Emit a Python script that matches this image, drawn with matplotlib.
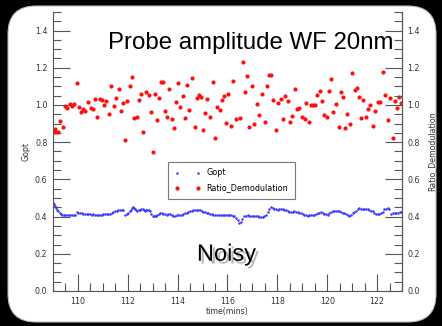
import matplotlib
matplotlib.use("Agg")
import matplotlib.pyplot as plt
import matplotlib.patheffects as pe
from matplotlib.patches import FancyBboxPatch
from matplotlib.ticker import MultipleLocator

# Ratio_Demodulation (rojo)
t_ratio = [109.07, 109.09, 109.20, 109.28, 109.39, 109.49, 109.57, 109.68, 109.76, 109.84,
           109.95, 110.03, 110.14, 110.22, 110.30, 110.40, 110.51, 110.59, 110.67, 110.78,
           110.89, 110.97, 111.05, 111.13, 111.23, 111.34, 111.45, 111.53, 111.63, 111.71,
           111.79, 111.90, 111.98, 112.09, 112.17, 112.25, 112.36, 112.46, 112.54, 112.62,
           112.73, 112.84, 112.92, 113.00, 113.10, 113.19, 113.27, 113.35, 113.43, 113.48,
           113.56, 113.67, 113.77, 113.85, 113.93, 114.01, 114.09, 114.20, 114.31, 114.39,
           114.47, 114.58, 114.68, 114.76, 114.84, 114.95, 115.03, 115.11, 115.19, 115.30,
           115.40, 115.51, 115.59, 115.70, 115.78, 115.86, 115.94, 116.02, 116.15, 116.23,
           116.34, 116.50, 116.61, 116.72, 116.80, 116.88, 116.98, 117.06, 117.17, 117.28,
           117.38, 117.49, 117.57, 117.65, 117.76, 117.84, 117.95, 118.03, 118.13, 118.21,
           118.32, 118.43, 118.51, 118.59, 118.69, 118.77, 118.88, 118.99, 119.10, 119.15,
           119.26, 119.34, 119.42, 119.52, 119.60, 119.71, 119.79, 119.87, 119.98, 120.08,
           120.17, 120.25, 120.35, 120.46, 120.54, 120.62, 120.73, 120.81, 120.91, 120.99,
           121.10, 121.18, 121.29, 121.37, 121.45, 121.56, 121.64, 121.72, 121.82, 121.93,
           122.04, 122.12, 122.22, 122.33, 122.44, 122.52, 122.63, 122.71, 122.81, 122.89,
           122.97]
ratio = [0.871, 0.857, 0.857, 0.914, 0.884, 0.995, 0.986, 1.005, 0.996, 1.005,
         1.116, 0.987, 0.962, 0.978, 0.968, 1.016, 0.984, 0.977, 1.032, 0.935,
         1.030, 1.025, 1.000, 1.023, 0.950, 1.100, 0.996, 1.038, 1.084, 0.966,
         1.011, 0.812, 1.023, 1.104, 1.149, 0.930, 0.937, 1.025, 1.061, 0.857,
         1.070, 1.052, 0.961, 0.746, 1.059, 0.921, 1.039, 1.122, 1.122, 0.968,
         0.935, 1.086, 0.927, 0.878, 1.018, 1.116, 0.991, 1.050, 0.932, 1.108,
         0.971, 1.143, 0.880, 1.036, 1.054, 1.045, 0.867, 0.959, 1.030, 0.937,
         1.125, 0.823, 0.991, 0.973, 1.025, 1.047, 0.905, 1.059, 0.889, 1.129,
         0.927, 0.932, 1.229, 1.070, 1.156, 0.882, 1.102, 0.900, 1.005, 0.948,
         1.057, 0.909, 1.100, 1.161, 1.161, 1.029, 0.867, 1.011, 1.034, 0.927,
         1.047, 1.023, 0.910, 0.943, 1.084, 0.978, 0.984, 0.937, 0.925, 1.013,
         0.910, 0.998, 0.998, 1.002, 1.052, 1.073, 1.020, 0.944, 0.935, 1.075,
         1.138, 0.961, 1.007, 0.882, 1.068, 1.043, 0.878, 0.950, 0.900, 1.170,
         1.082, 1.090, 1.043, 0.928, 1.029, 0.937, 0.978, 1.002, 0.889, 0.968,
         1.018, 1.018, 1.176, 1.054, 0.921, 1.039, 0.824, 1.021, 0.986, 1.041,
         1.011]

# Gopt (azul)
t_gopt = [108.99, 109.04, 109.08, 109.13, 109.17, 109.22, 109.28, 109.32, 109.36, 109.43,
          109.50, 109.57, 109.63, 109.70, 109.77, 109.83, 109.88, 109.95, 110.02, 110.08,
          110.15, 110.22, 110.28, 110.35, 110.42, 110.48, 110.55, 110.62, 110.68, 110.75,
          110.82, 110.88, 110.95, 111.02, 111.08, 111.15, 111.22, 111.29, 111.35, 111.42,
          111.48, 111.55, 111.62, 111.69, 111.75, 111.82, 111.89, 111.95, 112.02, 112.07,
          112.12, 112.16, 112.20, 112.25, 112.29, 112.33, 112.38, 112.43, 112.49, 112.55,
          112.60, 112.65, 112.69, 112.74, 112.78, 112.84, 112.89, 112.95, 113.00, 113.05,
          113.09, 113.14, 113.19, 113.24, 113.29, 113.36, 113.43, 113.50, 113.56, 113.62,
          113.69, 113.76, 113.83, 113.90, 113.96, 114.02, 114.09, 114.16, 114.23, 114.29,
          114.36, 114.43, 114.50, 114.56, 114.63, 114.70, 114.76, 114.83, 114.90, 114.96,
          115.03, 115.10, 115.16, 115.23, 115.30, 115.36, 115.43, 115.50, 115.57, 115.65,
          115.74, 115.80, 115.87, 115.94, 116.01, 116.07, 116.14, 116.21, 116.27, 116.34,
          116.41, 116.47, 116.54, 116.60, 116.67, 116.74, 116.81, 116.87, 116.94, 117.01,
          117.08, 117.14, 117.21, 117.28, 117.34, 117.41, 117.48, 117.54, 117.61, 117.68,
          117.74, 117.81, 117.88, 117.94, 118.01, 118.08, 118.15, 118.21, 118.28, 118.35,
          118.41, 118.48, 118.55, 118.61, 118.68, 118.75, 118.81, 118.88, 118.95, 119.01,
          119.08, 119.15, 119.22, 119.28, 119.35, 119.42, 119.48, 119.55, 119.62, 119.68,
          119.75, 119.82, 119.88, 119.95, 120.02, 120.08, 120.15, 120.22, 120.29, 120.35,
          120.42, 120.49, 120.55, 120.62, 120.69, 120.75, 120.82, 120.89, 120.95, 121.02,
          121.09, 121.15, 121.22, 121.29, 121.35, 121.42, 121.49, 121.56, 121.62, 121.69,
          121.75, 121.82, 121.89, 121.96, 122.02, 122.09, 122.16, 122.22, 122.29, 122.35,
          122.42, 122.49, 122.56, 122.63, 122.70, 122.76, 122.83, 122.90, 122.96]
gopt = [0.473, 0.466, 0.459, 0.448, 0.437, 0.428, 0.419, 0.413, 0.409, 0.407,
        0.407, 0.408, 0.407, 0.408, 0.407, 0.408, 0.410, 0.425, 0.422, 0.419,
        0.417, 0.414, 0.413, 0.412, 0.413, 0.412, 0.411, 0.412, 0.410, 0.411,
        0.409, 0.410, 0.411, 0.412, 0.413, 0.414, 0.413, 0.416, 0.420, 0.425,
        0.428, 0.432, 0.435, 0.437, 0.436, 0.434, 0.410, 0.414, 0.419, 0.428,
        0.437, 0.444, 0.450, 0.446, 0.441, 0.436, 0.432, 0.434, 0.437, 0.440,
        0.443, 0.438, 0.432, 0.435, 0.437, 0.433, 0.428, 0.415, 0.405, 0.403,
        0.401, 0.405, 0.410, 0.415, 0.419, 0.418, 0.416, 0.413, 0.410, 0.413,
        0.416, 0.409, 0.401, 0.405, 0.410, 0.408, 0.407, 0.411, 0.416, 0.418,
        0.421, 0.425, 0.428, 0.431, 0.435, 0.436, 0.437, 0.436, 0.435, 0.430,
        0.425, 0.423, 0.421, 0.418, 0.416, 0.413, 0.410, 0.408, 0.407, 0.407,
        0.407, 0.409, 0.410, 0.408, 0.407, 0.407, 0.407, 0.404, 0.401, 0.392,
        0.380, 0.366, 0.373, 0.388, 0.401, 0.404, 0.407, 0.404, 0.401, 0.403,
        0.405, 0.403, 0.401, 0.400, 0.399, 0.398, 0.404, 0.410, 0.427, 0.440,
        0.450, 0.446, 0.441, 0.439, 0.437, 0.439, 0.441, 0.439, 0.437, 0.434,
        0.430, 0.426, 0.423, 0.426, 0.428, 0.425, 0.423, 0.421, 0.419, 0.414,
        0.410, 0.407, 0.405, 0.406, 0.407, 0.409, 0.410, 0.415, 0.419, 0.421,
        0.423, 0.420, 0.416, 0.413, 0.410, 0.417, 0.423, 0.428, 0.432, 0.432,
        0.432, 0.428, 0.423, 0.421, 0.419, 0.414, 0.410, 0.401, 0.410, 0.419,
        0.426, 0.432, 0.440, 0.446, 0.443, 0.441, 0.441, 0.441, 0.439, 0.437,
        0.432, 0.428, 0.422, 0.416, 0.416, 0.416, 0.420, 0.423, 0.441, 0.443,
        0.444, 0.441, 0.416, 0.418, 0.419, 0.420, 0.421, 0.423, 0.425]

titulo = "Probe amplitude WF 20nm"
nota = "Noisy"

fig = plt.figure(figsize=(4.42, 3.26), dpi=100, facecolor="black")

# Fondo blanco redondeado
fondo = fig.add_axes([0, 0, 1, 1], zorder=0)
fondo.set_xlim(0, 442)
fondo.set_ylim(326, 0)
fondo.axis("off")
fondo.add_patch(FancyBboxPatch((8, 6), 428, 316, boxstyle="round,pad=0,rounding_size=28",
                               facecolor="white", edgecolor="#bbbbbb", linewidth=0.8))

ax = fig.add_axes([53 / 442, 1 - 291 / 326, 349 / 442, 279 / 326], zorder=1)
ax.patch.set_alpha(0)

ax.plot(t_gopt, gopt, linestyle="none", marker="o", markersize=1.8, color="#3a3aff",
        markeredgewidth=0, label="Gopt")
ax.plot(t_ratio, ratio, linestyle="none", marker="o", markersize=3.0, color="#ff1010",
        markeredgewidth=0, label="Ratio_Demodulation")

ax.set_xlim(109, 123)
ax.set_ylim(0, 1.5)

gris = "#555555"
ax.xaxis.set_major_locator(MultipleLocator(2))
ax.xaxis.set_minor_locator(MultipleLocator(0.5))
ax.yaxis.set_major_locator(MultipleLocator(0.2))
ax.yaxis.set_minor_locator(MultipleLocator(0.05))

ax.spines["top"].set_visible(False)
for s in ["left", "right", "bottom"]:
    ax.spines[s].set_color(gris)
    ax.spines[s].set_linewidth(0.8)

ax.tick_params(which="major", direction="in", length=12, width=0.8, color=gris,
               labelsize=5.7, labelcolor="#333333", pad=4)
ax.tick_params(which="minor", direction="in", length=6, width=0.8, color=gris)
ax.tick_params(axis="both", which="both", top=False, right=False)

ax2 = ax.twinx()
ax2.set_ylim(0, 1.5)
ax2.yaxis.set_major_locator(MultipleLocator(0.2))
ax2.yaxis.set_minor_locator(MultipleLocator(0.05))
ax2.spines["top"].set_visible(False)
ax2.spines["left"].set_visible(False)
ax2.spines["bottom"].set_visible(False)
ax2.spines["right"].set_color(gris)
ax2.spines["right"].set_linewidth(0.8)
ax2.tick_params(which="major", direction="in", length=12, width=0.8, color=gris,
                labelsize=5.7, labelcolor="#333333", pad=4)
ax2.tick_params(which="minor", direction="in", length=6, width=0.8, color=gris)

ax.set_xlabel("time(mins)", fontsize=5.7, color="#333333", labelpad=1)
ax.set_ylabel("Gopt", fontsize=5.7, color="#333333", labelpad=3)
ax2.set_ylabel("Ratio_Demodulation", fontsize=5.7, color="#333333", labelpad=5)

leg = ax.legend(loc="upper left", bbox_to_anchor=(0.3295, 0.4624), numpoints=2,
                fontsize=5.8, frameon=True, fancybox=False, markerscale=1.0,
                borderpad=0.8, handlelength=3.2, handletextpad=0.8, labelspacing=0.75,
                borderaxespad=0)
leg.get_frame().set_edgecolor(gris)
leg.get_frame().set_linewidth(0.8)

ax.text(0.977, 0.89, titulo, transform=ax.transAxes, ha="right", va="center",
        fontsize=17.3, family="Liberation Sans", color="black")
ax.text(0.497, 0.13, nota, transform=ax.transAxes, ha="center", va="center",
        fontsize=17, family="Liberation Sans", color="black",
        path_effects=[pe.SimplePatchShadow(offset=(2, -2), shadow_rgbFace="#888888", alpha=0.6),
                      pe.Normal()])

fig.savefig("out.png", dpi=100, facecolor="black")
